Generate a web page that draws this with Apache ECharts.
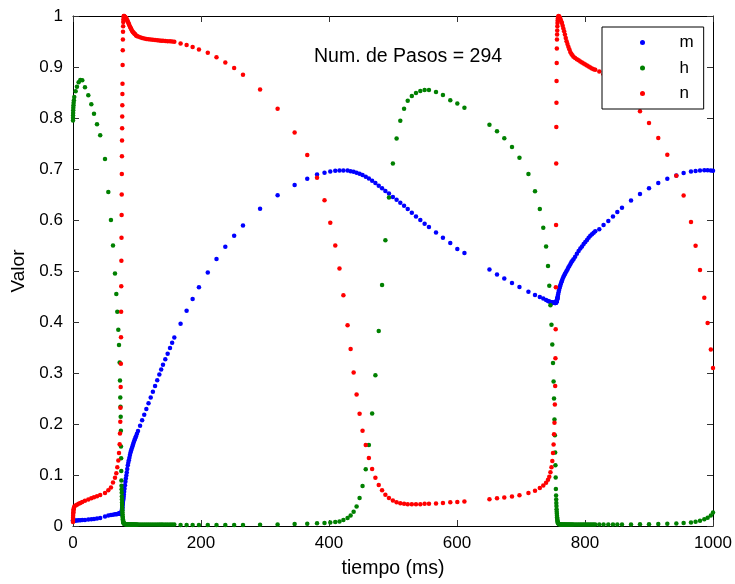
<!DOCTYPE html>
<html><head><meta charset="utf-8">
<script src="https://cdn.jsdelivr.net/npm/echarts@6/dist/echarts.min.js"></script>
<style>html,body{margin:0;padding:0;background:#fff}#c{width:735px;height:584px}</style>
</head><body><div id="c"></div>
<script>
// shared time points (ms)
const tiempo = [
 0,0.05,0.1,0.2,0.35,0.5,0.75,1.0,1.4,
 2.0,4.1,6.2,8.8,11.4,14.5,18.7,23.9,28.6,32.8,37.5,42.5,50.0,
 55.2,59.3,62.5,65.6,67.7,69.2,70.8,71.9,72.9,73.4,73.9,74.2,74.5,74.8,75.0,75.2,75.4,75.6,
 75.8,76.0,76.15,76.3,76.45,76.6,76.75,76.9,77.05,77.2,77.35,77.55,77.75,77.95,78.15,78.35,78.55,78.75,79.0,79.4,79.9,
 80.5,81.2,81.9,82.6,83.3,84.0,84.8,85.6,86.4,87.2,88.1,89.0,89.9,90.8,91.8,92.8,93.8,94.9,96.0,97.2,98.4,99.9,
 101.6,104.8,108.0,111.3,114.6,118.0,121.4,124.8,128.2,131.6,134.9,137.8,140.6,144.2,147.9,151.6,154.9,158.3,
 168.1,177.5,186.9,196.8,210.6,224.2,238.0,251.8,265.6,292.3,319.7,346.3,366.0,381.3,393.0,402.0,409.8,416.4,422.5,429.0,
 433.8,438.5,443.1,447.8,452.4,457.4,462.3,467.4,472.5,477.7,482.9,488.1,493.7,499.8,505.6,511.4,517.3,523.0,529.4,535.9,
 542.7,549.4,556.2,567.2,578.0,589.5,600.5,611.6,
 650.7,662.5,673.9,685.9,697.6,711.6,721.9,729.4,734.8,739.2,
 742.2,744.2,746.0,747.6,748.9,750.0,750.9,751.6,752.3,752.9,753.4,753.8,754.2,754.5,754.8,755.0,755.2,755.4,755.6,755.8,
 756.0,756.2,756.4,756.6,756.8,757.0,757.3,757.6,758.0,758.6,759.3,760.1,761.0,762.0,763.0,764.0,765.1,766.2,767.4,768.6,
 769.9,771.2,772.6,774.0,775.5,777.0,778.6,780.3,782.0,784.6,787.3,790.0,792.7,795.3,797.9,800.5,803.1,805.7,808.3,810.9,
 813.5,816.0,
 822.3,829.0,836.4,843.7,850.5,857.8,871.9,885.9,900.0,914.5,928.6,942.7,954.1,965.6,972.8,979.7,986.4,991.6,996.6,1000
];
const m = [
 0.0103,0.0103,0.0103,0.0103,0.0103,0.0103,0.0104,0.0104,0.0104,
 0.0105,0.0107,0.0109,0.0111,0.0113,0.0116,0.012,0.0126,0.0132,0.0138,0.0145,0.0155,0.0185,
 0.0205,0.0215,0.0222,0.0228,0.0232,0.0236,0.024,0.0243,0.0246,0.0248,0.025,0.0251,0.0252,0.0253,0.0254,0.0255,0.0256,0.0257,
 0.026,0.027,0.028,0.029,0.030,0.031,0.033,0.035,0.037,0.039,0.041,0.043,0.045,0.047,0.049,0.051,0.053,0.055,0.058,0.062,0.067,
 0.073,0.080,0.087,0.093,0.099,0.105,0.112,0.119,0.124,0.129,0.134,0.139,0.144,0.148,0.152,0.156,0.160,0.164,0.168,0.172,0.176,0.181,
 0.1864,0.1967,0.2073,0.2183,0.2293,0.2407,0.252,0.2633,0.2747,0.286,0.297,0.3067,0.316,0.3269,0.3379,0.3489,0.3592,0.3695,
 0.3967,0.422,0.4453,0.468,0.497,0.5236,0.5476,0.569,0.589,0.622,0.6485,0.6686,0.681,0.689,0.6926,0.695,0.6965,0.697,0.697,0.697,
 0.6958,0.6945,0.6925,0.6906,0.688,0.6848,0.6816,0.677,0.6725,0.6673,0.6621,0.657,0.6518,0.6453,0.6395,0.6336,0.6278,0.6214,0.6142,0.6071,
 0.6,0.5928,0.5864,0.5754,0.565,0.5547,0.5431,0.5353,
 0.503,0.4932,0.4854,0.4763,0.4686,0.4595,0.453,0.4492,0.446,0.4433,
 0.4414,0.4401,0.4392,0.4386,0.4382,0.438,0.4378,0.4377,0.4376,0.4375,0.4375,0.4375,0.4376,0.4378,0.438,0.4385,0.439,0.4395,0.44,0.441,
 0.442,0.443,0.444,0.445,0.446,0.447,0.449,0.451,0.454,0.458,0.462,0.466,0.47,0.474,0.478,0.481,0.485,0.488,0.491,0.494,
 0.497,0.5,0.503,0.507,0.51,0.513,0.517,0.52,0.523,0.528,0.534,0.539,0.544,0.548,0.553,0.557,0.561,0.565,0.569,0.572,
 0.575,0.578,
 0.582,0.59,0.598,0.607,0.6155,0.624,0.638,0.651,0.6625,0.6725,0.681,0.6875,0.692,0.695,0.696,0.697,0.6975,0.6975,0.697,0.6965
];
const h = [
 0.795,0.80,0.805,0.81,0.815,0.82,0.825,0.83,0.835,
 0.8414,0.8524,0.8615,0.8699,0.8744,0.8738,0.8602,0.8447,0.8272,0.8084,0.7877,0.7664,0.7198,
 0.655,0.60,0.55,0.495,0.455,0.42,0.385,0.355,0.3204,0.2854,0.2518,0.2336,0.2142,0.187,0.156,0.1327,0.108,0.0893,
 0.079,0.072,0.065,0.058,0.052,0.046,0.041,0.036,0.031,0.027,0.023,0.019,0.016,0.013,0.011,0.009,0.008,0.007,0.006,0.005,0.0045,
 0.004,0.0038,0.0036,0.0035,0.0034,0.0033,0.0032,0.0031,0.003,0.003,0.003,0.003,0.003,0.003,0.003,0.003,0.003,0.003,0.003,0.003,0.003,0.003,
 0.003,0.003,0.003,0.003,0.003,0.003,0.003,0.003,0.003,0.003,0.003,0.003,0.003,0.003,0.003,0.003,0.003,0.003,
 0.002,0.002,0.002,0.002,0.002,0.002,0.002,0.002,0.0022,0.0025,0.003,0.0038,0.0045,0.0052,0.0058,0.0071,0.0078,0.009,0.0116,0.0155,
 0.0207,0.0278,0.0382,0.055,0.0783,0.1113,0.1586,0.2207,0.2958,0.3825,0.4725,0.5605,0.644,0.7107,0.76,0.7948,0.818,0.8336,0.843,0.849,
 0.853,0.855,0.855,0.851,0.845,0.835,0.8285,0.82,
 0.787,0.774,0.7605,0.743,0.7223,0.69,0.6563,0.6214,0.585,0.548,
 0.51,0.4712,0.433,0.3948,0.356,0.3198,0.2835,0.25,0.209,0.178,0.1443,0.119,0.0951,0.0725,0.06,0.052,0.045,0.039,0.033,0.028,
 0.024,0.02,0.017,0.014,0.012,0.01,0.008,0.0065,0.0055,0.0045,0.004,0.0035,0.003,0.003,0.003,0.003,0.003,0.003,0.003,0.003,
 0.003,0.003,0.003,0.003,0.003,0.003,0.003,0.003,0.003,0.003,0.003,0.003,0.003,0.003,0.003,0.003,0.003,0.003,0.003,0.003,
 0.003,0.003,
 0.003,0.003,0.003,0.003,0.003,0.003,0.003,0.0032,0.0035,0.004,0.0045,0.005,0.0058,0.0071,0.0084,0.0104,0.013,0.0162,0.0207,0.0265
];
const n = [
 0.008,0.012,0.016,0.02,0.024,0.027,0.03,0.033,0.0355,
 0.038,0.040,0.0418,0.0435,0.0452,0.047,0.0495,0.052,0.0545,0.0565,0.0585,0.061,0.0645,
 0.0699,0.0757,0.0854,0.0945,0.1036,0.1152,0.1282,0.1431,0.1605,0.1812,0.2045,0.2317,0.2725,0.318,0.37,0.42,0.47,0.52,
 0.565,0.61,0.65,0.69,0.725,0.756,0.78,0.803,0.825,0.847,0.867,0.904,0.933,0.954,0.969,0.98,0.988,0.993,0.998,1.0,1.0,
 0.999,0.998,0.997,0.9965,0.996,0.993,0.991,0.989,0.987,0.985,0.982,0.979,0.977,0.975,0.972,0.970,0.968,0.967,0.965,0.964,0.962,0.961,
 0.96,0.9585,0.957,0.956,0.955,0.9545,0.954,0.9533,0.9528,0.9524,0.952,0.9517,0.9514,0.951,0.9507,0.9503,0.95,0.9495,
 0.946,0.943,0.939,0.9345,0.928,0.919,0.909,0.898,0.885,0.856,0.818,0.7715,0.7276,0.683,0.6388,0.5948,0.5502,0.5049,0.4524,0.3935,
 0.347,0.301,0.2576,0.22,0.187,0.1586,0.1333,0.112,0.0945,0.0803,0.07,0.0615,0.055,0.0498,0.0466,0.0447,0.0434,0.0427,0.0427,0.0427,
 0.0427,0.0434,0.0434,0.044,0.0453,0.0466,0.0472,0.0479,
 0.0524,0.0544,0.0557,0.0576,0.0602,0.0647,0.0693,0.0744,0.0796,0.0848,
 0.0906,0.0964,0.1055,0.1152,0.1275,0.143,0.16,0.18,0.2026,0.238,0.2744,0.3288,0.3858,0.468,0.59,0.7107,0.7825,0.8298,0.8725,0.908,
 0.9365,0.954,0.9637,0.9715,0.98,0.9864,0.991,0.995,0.998,1.0,0.9995,0.998,0.996,0.9925,0.989,0.9864,0.981,0.9755,0.97,0.9635,
 0.957,0.9505,0.945,0.9395,0.935,0.9295,0.926,0.9228,0.92,0.9175,0.9153,0.913,0.9107,0.9087,0.9068,0.905,0.903,0.901,0.899,0.8973,
 0.8958,0.8945,
 0.891,0.886,0.88,0.872,0.864,0.853,0.835,0.813,0.79,0.761,0.728,0.687,0.648,0.596,0.5495,0.502,0.4476,0.398,0.3463,0.31
];
const seriesNames = ['m', 'h', 'n'];
const xTicks = [0, 200, 400, 600, 800, 1000];
const yTicks = [0, 0.1, 0.2, 0.3, 0.4, 0.5, 0.6, 0.7, 0.8, 0.9, 1];
const titulo = 'Num. de Pasos = 294';

const FONT = "'Liberation Sans', Arial, Helvetica, sans-serif";
const colors = ['#0000ff', '#008000', '#ff0000'];
const values = [m, h, n];

const axisCommon = (pos, ticks, showLabel, extra) => Object.assign({
  type: 'value',
  position: pos,
  min: ticks[0],
  max: ticks[ticks.length - 1],
  interval: ticks[1] - ticks[0],
  axisLine: { show: true, onZero: false, lineStyle: { color: '#000', width: 1 } },
  axisTick: { show: true, inside: true, length: 6, lineStyle: { color: '#333', width: 1 } },
  axisLabel: { show: showLabel, color: '#000', fontSize: 17, fontFamily: FONT },
  splitLine: { show: false }
}, extra || {});

const chart = echarts.init(document.getElementById('c'), null, { renderer: 'canvas' });
chart.setOption({
  animation: false,
  backgroundColor: '#fff',
  textStyle: { fontFamily: FONT },
  title: {
    text: titulo, left: 314, top: 47, padding: 0,
    textStyle: { fontSize: 19.5, fontWeight: 'normal', color: '#000', fontFamily: FONT }
  },
  grid: { left: 73, right: 22, top: 16, bottom: 53, show: false },
  legend: {
    data: seriesNames,
    orient: 'vertical',
    left: 602, top: 27,
    padding: [7, 10, 7, 38],
    itemWidth: 64, itemHeight: 5, itemGap: 8.5,
    icon: 'circle',
    borderColor: '#000', borderWidth: 1, backgroundColor: '#fff',
    textStyle: { fontSize: 17, color: '#000', fontFamily: FONT, lineHeight: 16 },
    selectedMode: false
  },
  xAxis: [
    axisCommon('bottom', xTicks, true, {
      name: 'tiempo (ms)', nameLocation: 'middle', nameGap: 33,
      nameTextStyle: { fontSize: 19.5, color: '#000', fontFamily: FONT },
      axisLabel: { show: true, color: '#000', fontSize: 17, fontFamily: FONT, margin: 9,
                   formatter: v => String(v) }
    }),
    axisCommon('top', xTicks, false)
  ],
  yAxis: [
    axisCommon('left', yTicks, true, {
      name: 'Valor', nameLocation: 'middle', nameGap: 43,
      nameTextStyle: { fontSize: 19, color: '#000', fontFamily: FONT },
      axisLabel: { show: true, color: '#000', fontSize: 17, fontFamily: FONT, margin: 10 }
    }),
    axisCommon('right', yTicks, false)
  ],
  series: seriesNames.map((name, k) => ({
    name: name,
    type: 'scatter',
    xAxisIndex: 0, yAxisIndex: 0,
    symbol: 'circle',
    symbolSize: 4.5,
    itemStyle: { color: colors[k], opacity: 1 },
    silent: true,
    data: tiempo.map((t, i) => [t, values[k][i]])
  }))
});
</script>
</body></html>
